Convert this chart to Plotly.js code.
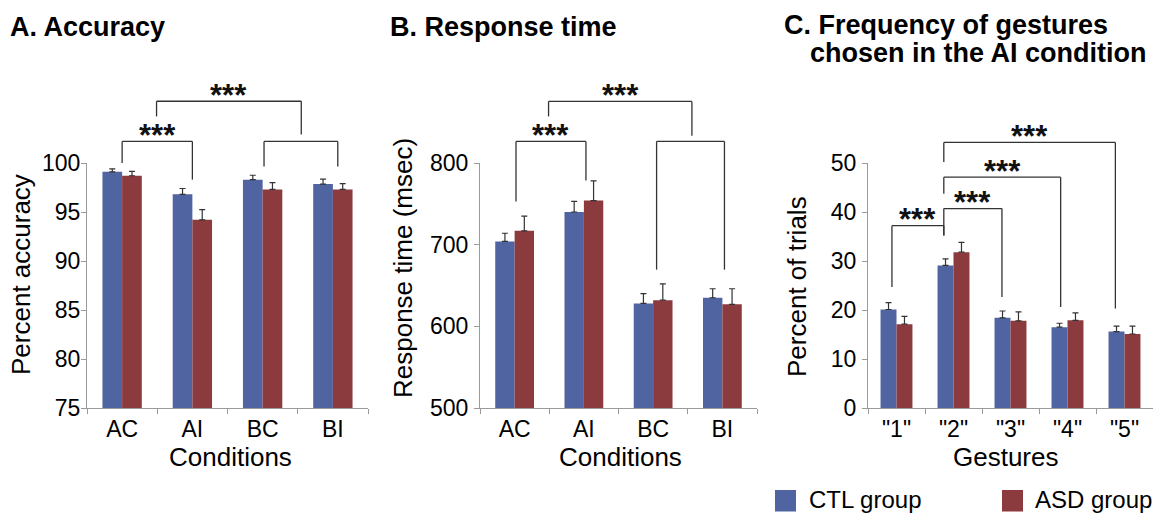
<!DOCTYPE html>
<html><head><meta charset="utf-8">
<script src="https://cdn.plot.ly/plotly-3.0.1.min.js"></script>
<style>html,body{margin:0;padding:0;background:#fff}#chart{width:1160px;height:515px}</style>
</head><body><div id="chart"></div>
<script>
// ---------- data ----------
const conditions = ['AC', 'AI', 'BC', 'BI'];
const gestures = ['"1"', '"2"', '"3"', '"4"', '"5"'];
const seriesNames = ['CTL group', 'ASD group'];

const accuracyCTL = [99.1, 96.8, 98.3, 97.85];
const accuracyCTLErr = [0.3, 0.6, 0.45, 0.5];
const accuracyASD = [98.7, 94.2, 97.3, 97.3];
const accuracyASDErr = [0.45, 1.05, 0.7, 0.6];

const rtCTL = [704, 740, 628, 635];
const rtCTLErr = [10, 13, 12, 11];
const rtASD = [717, 754, 632, 627];
const rtASDErr = [18, 24, 20, 19];

const gestureCTL = [20.1, 29.1, 18.4, 16.5, 15.6];
const gestureCTLErr = [1.4, 1.35, 1.4, 0.8, 1.1];
const gestureASD = [17.1, 31.8, 17.8, 17.9, 15.1];
const gestureASDErr = [1.6, 2.0, 1.8, 1.5, 1.6];

// significance brackets: [xStart, xEnd, top, leftFoot, rightFoot, label] (category index, data units)
const accuracyBrackets = [[0, 1, 102.2, 100.0, 98.3, '***'], [2.02, 3.07, 102.2, 99.65, 99.65, ''], [0.49, 2.55, 106.3, 104.75, 102.9, '***']];
const rtBrackets = [[0.02, 1.03, 826.4, 753, 778.7, '***'], [2.05, 3.03, 826.4, 669.4, 669.4, ''], [0.49, 2.56, 875.4, 857, 833.4, '***']];
const gestureBrackets = [[-0.08, 0.83, 37.2, 24.7, 35.2, '***'], [0.83, 1.85, 40.7, 35.2, 22.65, '***'], [0.83, 2.88, 47.1, 43.75, 20.6, '***'], [0.83, 3.84, 54.2, 50.2, 20.3, '***']];

// ---------- layout helpers ----------
const W = 1160, H = 515, TOP = 163, BOTTOM = 408, PH = BOTTOM - TOP;
const FONT = '"Liberation Sans", Arial, Helvetica, sans-serif';
const COLORS = ['#4F64A1', '#8B3A3E'];
const AXIS = '#9a9a9a';
const pyP = p => (BOTTOM - p) / PH;
const pxP = p => p / W;

const panels = [
  {cats: conditions, vals: [accuracyCTL, accuracyASD], errs: [accuracyCTLErr, accuracyASDErr],
   range: [75, 100], dtick: 5, dom: [87, 368], brackets: accuracyBrackets, standoff: -4,
   title: 'A. Accuracy', titleX: 8, ytitle: 'Percent accuracy', ytX: 21, ytY: 275, xtitle: 'Conditions', xtX: 230},
  {cats: conditions, vals: [rtCTL, rtASD], errs: [rtCTLErr, rtASDErr],
   range: [500, 800], dtick: 100, dom: [480, 757], brackets: rtBrackets, standoff: 1,
   title: 'B. Response time', titleX: 388, ytitle: 'Response time (msec)', ytX: 403, ytY: 268, xtitle: 'Conditions', xtX: 620},
  {cats: gestures, vals: [gestureCTL, gestureASD], errs: [gestureCTLErr, gestureASDErr],
   range: [0, 50], dtick: 10, dom: [868, 1153], brackets: gestureBrackets, standoff: 1,
   title: null, ytitle: 'Percent of trials', ytX: 797, ytY: 287, xtitle: 'Gestures', xtX: 1006}
];

const traces = [];
const layout = {
  width: W, height: H, margin: {l: 0, r: 0, t: TOP, b: H - BOTTOM},
  paper_bgcolor: '#fff', plot_bgcolor: '#fff', showlegend: false, barmode: 'group',
  font: {family: FONT, color: '#000'}, shapes: [], annotations: []
};

panels.forEach((p, i) => {
  const xa = i === 0 ? 'x' : 'x' + (i + 1);
  const ya = i === 0 ? 'y' : 'y' + (i + 1);
  const xKey = i === 0 ? 'xaxis' : 'xaxis' + (i + 1);
  const yKey = i === 0 ? 'yaxis' : 'yaxis' + (i + 1);
  p.vals.forEach((v, s) => {
    traces.push({
      type: 'bar', x: p.cats, y: v, xaxis: xa, yaxis: ya, name: seriesNames[s],
      width: 0.28, offset: s === 0 ? -0.28 : 0,
      marker: {color: COLORS[s], line: {width: 0}},
      error_y: {type: 'data', array: p.errs[s], arrayminus: p.errs[s].map(() => 0), symmetric: false,
                color: '#333', thickness: 1.2, width: 3},
      hoverinfo: 'skip'
    });
  });
  layout[xKey] = {
    domain: [pxP(p.dom[0]), pxP(p.dom[1])], anchor: ya, type: 'category',
    categoryorder: 'array', categoryarray: p.cats, range: [-0.5, p.cats.length - 0.5],
    tickson: 'boundaries', ticks: 'outside', ticklen: 5, tickcolor: AXIS, tickwidth: 1,
    showline: true, linecolor: AXIS, linewidth: 1, showgrid: false, zeroline: false,
    tickfont: {size: 23, family: FONT, color: '#000'}, automargin: false, fixedrange: true
  };
  const tv = [];
  for (let v = p.range[0]; v <= p.range[1] + 1e-9; v += p.dtick) tv.push(v);
  layout[yKey] = {
    domain: [0, 1], anchor: xa, range: p.range, tickvals: tv,
    ticks: 'outside', ticklen: 5, tickcolor: AXIS, tickwidth: 1,
    showline: true, linecolor: AXIS, linewidth: 1, showgrid: false, zeroline: false,
    tickfont: {size: 23, family: FONT, color: '#000'}, ticklabelstandoff: p.standoff,
    automargin: false, fixedrange: true
  };
  const toP = v => (v - p.range[0]) / (p.range[1] - p.range[0]);
  const ln = {color: '#333', width: 1.3};
  p.brackets.forEach(b => {
    const [x0, x1, top, f0, f1, label] = b;
    layout.shapes.push({type: 'line', xref: xa, yref: 'paper', x0: x0, x1: x0, y0: toP(f0), y1: toP(top), line: ln});
    layout.shapes.push({type: 'line', xref: xa, yref: 'paper', x0: x0, x1: x1, y0: toP(top), y1: toP(top), line: ln});
    layout.shapes.push({type: 'line', xref: xa, yref: 'paper', x0: x1, x1: x1, y0: toP(top), y1: toP(f1), line: ln});
    if (label) {
      layout.annotations.push({xref: xa, yref: 'paper', x: (x0 + x1) / 2, y: toP(top), yshift: 6,
        xanchor: 'center', yanchor: 'middle', text: '<b>' + label + '</b>', showarrow: false,
        font: {size: 31, family: FONT, color: '#111'}});
    }
  });
  // axis titles
  layout.annotations.push({xref: 'paper', yref: 'paper', x: pxP(p.ytX), y: pyP(p.ytY), textangle: -90,
    xanchor: 'center', yanchor: 'middle', text: p.ytitle, showarrow: false, font: {size: 26, family: FONT, color: '#000'}});
  layout.annotations.push({xref: 'paper', yref: 'paper', x: pxP(p.xtX), y: pyP(457),
    xanchor: 'center', yanchor: 'middle', text: p.xtitle, showarrow: false, font: {size: 26, family: FONT, color: '#000'}});
  if (p.title) {
    layout.annotations.push({xref: 'paper', yref: 'paper', x: pxP(p.titleX), y: pyP(26.5),
      xanchor: 'left', yanchor: 'middle', text: '<b>' + p.title + '</b>', showarrow: false,
      font: {size: 27, family: FONT, color: '#000'}});
  }
});

// panel C two-line title
layout.annotations.push({xref: 'paper', yref: 'paper', x: pxP(782), y: pyP(25.5), xanchor: 'left', yanchor: 'middle',
  text: '<b>C. Frequency of gestures</b>', showarrow: false, font: {size: 27, family: FONT, color: '#000'}});
layout.annotations.push({xref: 'paper', yref: 'paper', x: pxP(808), y: pyP(53.5), xanchor: 'left', yanchor: 'middle',
  text: '<b>chosen in the AI condition</b>', showarrow: false, font: {size: 27, family: FONT, color: '#000'}});

// legend (manual, from series names/colours)
const legendItems = [{sq: 775, tx: 807}, {sq: 1002, tx: 1033}];
legendItems.forEach((it, s) => {
  layout.shapes.push({type: 'rect', xref: 'paper', yref: 'paper', x0: pxP(it.sq), x1: pxP(it.sq + 21),
    y0: pyP(511.5), y1: pyP(490), fillcolor: COLORS[s], line: {width: 0}});
  layout.annotations.push({xref: 'paper', yref: 'paper', x: pxP(it.tx), y: pyP(499), xanchor: 'left', yanchor: 'middle',
    text: seriesNames[s], showarrow: false, font: {size: 24, family: FONT, color: '#000'}});
});

Plotly.newPlot('chart', traces, layout, {staticPlot: true, displayModeBar: false});
</script>
</body></html>
